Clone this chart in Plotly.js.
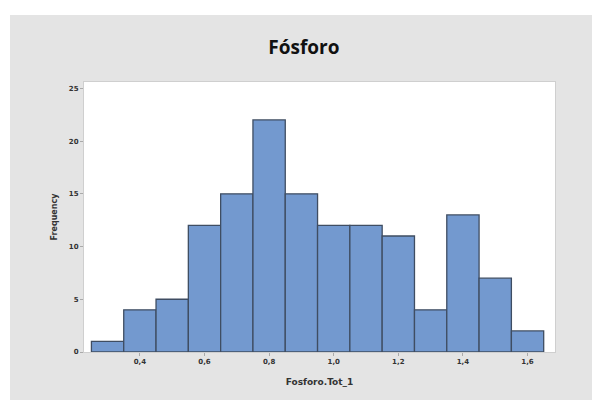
<!DOCTYPE html>
<html>
<head>
<meta charset="utf-8">
<script src="https://cdn.plot.ly/plotly-3.0.1.min.js"></script>
<style>
html,body{margin:0;padding:0;background:#ffffff;width:592px;height:400px;overflow:hidden;}
#chart{position:absolute;left:10px;top:15px;width:582px;height:385px;}
</style>
</head>
<body>
<div id="chart"></div>
<script>
// Bin midpoints (Fosforo.Tot_1) and their frequencies
const binCenters = [0.3, 0.4, 0.5, 0.6, 0.7, 0.8, 0.9, 1.0, 1.1, 1.2, 1.3, 1.4, 1.5, 1.6];
const frequencies = [1, 4, 5, 12, 15, 22, 15, 12, 12, 11, 4, 13, 7, 2];
const xTickVals = [0.4, 0.6, 0.8, 1.0, 1.2, 1.4, 1.6];
const xTickText = ["0,4", "0,6", "0,8", "1,0", "1,2", "1,4", "1,6"];
const yTickVals = [0, 5, 10, 15, 20, 25];
const yTickText = ["0", "5", "10", "15", "20", "25"];

const trace = {
  type: 'bar',
  x: binCenters,
  y: frequencies,
  width: 0.1,
  marker: {color: '#7399cf', line: {color: '#3f4d62', width: 1.3}},
  hoverinfo: 'x+y'
};

const tickFont = {family: 'DejaVu Sans, sans-serif', size: 7, color: '#333333', weight: 'bold'};

const layout = {
  width: 582,
  height: 385,
  paper_bgcolor: '#e4e4e4',
  plot_bgcolor: '#ffffff',
  margin: {l: 74, r: 37, t: 67, b: 48},
  showlegend: false,
  bargap: 0,
  title: {
    text: '<b>Fósforo</b>',
    font: {family: 'Open Sans, sans-serif', size: 19, color: '#111111'},
    x: 0.505, xanchor: 'center', y: 0.915, yanchor: 'middle'
  },
  xaxis: {
    range: [0.227, 1.685],
    tickmode: 'array', tickvals: xTickVals, ticktext: xTickText,
    tickfont: tickFont,
    ticks: 'outside', ticklen: 3, tickcolor: '#aaaaaa',
    showgrid: false, zeroline: false,
    showline: true, linecolor: '#cfcfcf', linewidth: 1, mirror: true,
    title: {text: '<b>Fosforo.Tot_1</b>', font: {family: 'DejaVu Sans, sans-serif', size: 9, color: '#333333'}, standoff: 13}
  },
  yaxis: {
    range: [0, 25.6],
    tickmode: 'array', tickvals: yTickVals, ticktext: yTickText,
    tickfont: tickFont,
    ticks: 'outside', ticklen: 3, tickcolor: '#aaaaaa',
    showgrid: false, zeroline: false,
    showline: true, linecolor: '#cfcfcf', linewidth: 1, mirror: true,
    title: {text: '<b>Frequency</b>', font: {family: 'DejaVu Sans, sans-serif', size: 8, color: '#333333'}, standoff: 10}
  }
};

Plotly.newPlot('chart', [trace], layout, {displayModeBar: false, staticPlot: true});
</script>
</body>
</html>
